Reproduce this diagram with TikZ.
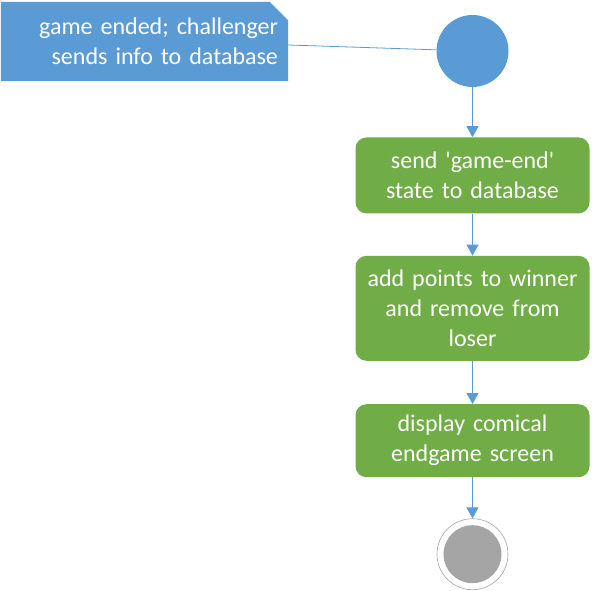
\documentclass[tikz,border=0pt]{standalone}
\usepackage{fontspec}
\setmainfont{Carlito}
\usepackage{xcolor}
\definecolor{lblue}{RGB}{91,155,213}
\definecolor{lgreen}{RGB}{112,173,71}
\definecolor{mgray}{RGB}{165,165,165}
\usetikzlibrary{positioning, calc, arrows.meta, shapes, backgrounds}
\tikzstyle{Action} = [
rectangle,
rounded corners=11pt,
fill=lgreen,
text=white,
align=center,
text width=214pt,
inner xsep=10pt,
inner ysep=0pt,
minimum width=234pt,
font=\fontsize{24}{30}\selectfont]
\tikzstyle{Note} = [
rectangle,
text=white,
align=right,
text width=267pt,
inner xsep=10pt,
inner ysep=0pt,
minimum height=79pt,
font=\fontsize{24}{30}\selectfont]
\tikzstyle{StartDot} = [
circle,
fill=lblue,
inner sep=0pt,
minimum size=72pt]
\tikzstyle{EndRing} = [
circle,
draw=mgray,
line width=0.6pt,
fill=white,
inner sep=0pt,
minimum size=71pt]
\tikzstyle{EndDot} = [
circle,
fill=mgray,
inner sep=0pt,
minimum size=58pt]
\tikzstyle{Flow} = [
draw=lblue,
line width=1pt,
-{Triangle[width=12pt, length=11pt]}]
\tikzstyle{Link} = [
draw=lblue,
line width=0.8pt]

\begin{document}
\begin{tikzpicture}[x=1pt, y=-1pt]
    \useasboundingbox (0,0) rectangle (597,591);

    \node [Note] (1) at (144.5,41.5) {game ended; challenger\\sends info to database};
    \node [StartDot] (2) at (472.5,51) {};
    \node [Action, minimum height=76pt, below=50pt of 2] (3) {send \textquotesingle game-end\textquotesingle\\state to database};
    \node [Action, minimum height=105pt, below=42pt of 3] (4) {add points to winner\\and remove from\\loser};
    \node [Action, minimum height=73pt, below=43pt of 4] (5) {display comical\\endgame screen};
    \node [EndRing, below=41pt of 5] (6) {};
    \node [EndDot] (7) at (6) {};

    \begin{scope}[on background layer]
    \fill[lblue] (1.south west) |- ($(1.north east)+(-18pt,0)$)
        -- ($(1.north east)+(0,-18pt)$) |- cycle;
    \draw[white!80!lblue, line width=0.6pt] ($(1.north east)+(-18pt,0)$)
        -- ($(1.north east)+(0,-18pt)$);
    \end{scope}

    \draw[Link] ([yshift=-3.5pt]1.east) -- (2);
    \draw[Flow] (2) -- (3);
    \draw[Flow] (3) -- (4);
    \draw[Flow] (4) -- (5);
    \draw[Flow] (5) -- (6);
\end{tikzpicture}
\end{document}
